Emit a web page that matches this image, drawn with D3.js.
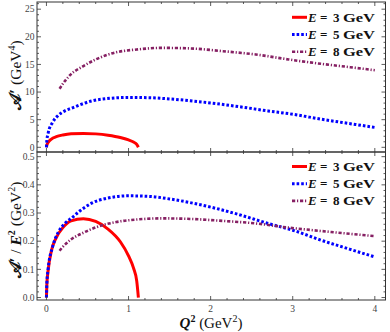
<!DOCTYPE html>
<html>
<head>
<meta charset="utf-8">
<script src="https://cdn.jsdelivr.net/npm/d3@7"></script>
<style>
  body { margin: 0; background: #fff; }
  text { font-family: "Liberation Serif", "DejaVu Serif", serif; }
</style>
</head>
<body>
<div id="chart"></div>
<script>
// DATA ***********************************************
var energies = ["3", "5", "8"];

// E = 3 GeV
var q2E3 = [0, 0.005, 0.02, 0.06, 0.12, 0.2, 0.3, 0.45, 0.6, 0.75, 0.9, 1.0, 1.06, 1.1, 1.12];
var topE3 = [0, 0.4, 0.86, 1.49, 1.92, 2.23, 2.45, 2.52, 2.43, 2.19, 1.78, 1.33, 0.95, 0.52, 0];
var botE3 = [0, 0.045, 0.095, 0.165, 0.213, 0.248, 0.272, 0.28, 0.27, 0.243, 0.198, 0.148, 0.105, 0.058, 0];

// E = 5 GeV
var q2E5 = [0, 0.005, 0.02, 0.075, 0.145, 0.225, 0.31, 0.41, 0.55, 0.73, 1.0, 1.25, 1.5, 1.75, 2.0, 2.35, 2.7, 3.0, 3.35, 3.7, 4.0];
var topE5 = [0, 1.25, 2.5, 4.5, 5.8, 6.6, 7.1, 7.7, 8.38, 8.8, 9.03, 8.98, 8.75, 8.43, 8.03, 7.35, 6.58, 5.98, 5.08, 4.28, 3.6];
var botE5 = [0, 0.05, 0.1, 0.18, 0.232, 0.263, 0.283, 0.308, 0.335, 0.352, 0.361, 0.359, 0.35, 0.337, 0.321, 0.294, 0.263, 0.239, 0.203, 0.171, 0.144];

// E = 8 GeV
var q2E8 = [0.16, 0.2, 0.29, 0.45, 0.6, 0.85, 1.1, 1.4, 1.75, 2.15, 2.55, 2.95, 3.35, 3.7, 4.0];
var topE8 = [10.6, 11.5, 13.1, 14.7, 15.9, 17.2, 17.7, 18.0, 17.9, 17.4, 16.8, 15.9, 15.1, 14.5, 13.95];
var botE8 = [0.166, 0.18, 0.204, 0.23, 0.249, 0.268, 0.277, 0.281, 0.279, 0.272, 0.263, 0.248, 0.236, 0.226, 0.218];

var xTicks = [0, 1, 2, 3, 4];
var topTicks = [0, 5, 10, 15, 20, 25];
var botTicks = [0.0, 0.1, 0.2, 0.3, 0.4, 0.5];

// STYLES ***********************************************
var width = 390, height = 332;
var left = 37, right = 385.5;
var colors = ["#ff0000", "#0000ff", "#862063"];
var dashes = [null, "2.6,2", "3.2,1.8,1.2,1.8"];
var widths = [3, 3, 2.6];

var svg = d3.select("#chart").append("svg")
        .attr("width", width)
        .attr("height", height);

var x = d3.scaleLinear().domain([-0.115, 4.13]).range([left, right]);

var panels = [
        {
                y: d3.scaleLinear().domain([-0.85, 26.3]).range([152, 2]),
                ticks: topTicks, minor: d3.range(0, 26.01, 1), fmt: d3.format("d"),
                series: [[q2E3, topE3], [q2E5, topE5], [q2E8, topE8]],
                legendY: 17.3, showX: false
        },
        {
                y: d3.scaleLinear().domain([-0.0088, 0.5166]).range([300, 152]),
                ticks: botTicks, minor: d3.range(0, 0.5101, 0.02), fmt: d3.format(".1f"),
                series: [[q2E3, botE3], [q2E5, botE5], [q2E8, botE8]],
                legendY: 166.5, showX: true
        }
];

var xMinor = d3.range(0, 4.101, 0.2);

panels.forEach(function (p) {
        var g = svg.append("g");
        var y = p.y;
        var y0 = y.range()[0], y1 = y.range()[1];

        // curves
        var line = d3.line()
                .x(function (d) { return x(d[0]); })
                .y(function (d) { return y(d[1]); })
                .curve(d3.curveMonotoneX);

        p.series.forEach(function (s, i) {
                var pts = d3.zip(s[0], s[1]);
                g.append("path")
                        .attr("d", line(pts))
                        .attr("fill", "none")
                        .attr("stroke", colors[i])
                        .attr("stroke-width", widths[i])
                        .attr("stroke-dasharray", dashes[i]);
        });

        // frame
        g.append("rect")
                .attr("x", left).attr("y", y1)
                .attr("width", right - left).attr("height", y0 - y1)
                .attr("fill", "none")
                .attr("stroke", "#333")
                .attr("stroke-width", 1);

        // x ticks (bottom and top edges)
        xMinor.forEach(function (v) {
                var major = Math.abs(v - Math.round(v)) < 1e-6;
                var len = major ? 4 : 2;
                g.append("line").attr("x1", x(v)).attr("x2", x(v))
                        .attr("y1", y0).attr("y2", y0 - len)
                        .attr("stroke", "#333").attr("stroke-width", 0.8);
                g.append("line").attr("x1", x(v)).attr("x2", x(v))
                        .attr("y1", y1).attr("y2", y1 + len)
                        .attr("stroke", "#333").attr("stroke-width", 0.8);
        });

        // y ticks (left and right edges)
        p.minor.forEach(function (v) {
                var major = p.ticks.some(function (t) { return Math.abs(t - v) < 1e-6; });
                var len = major ? 4 : 2;
                g.append("line").attr("x1", left).attr("x2", left + len)
                        .attr("y1", y(v)).attr("y2", y(v))
                        .attr("stroke", "#333").attr("stroke-width", 0.8);
                g.append("line").attr("x1", right).attr("x2", right - len)
                        .attr("y1", y(v)).attr("y2", y(v))
                        .attr("stroke", "#333").attr("stroke-width", 0.8);
        });

        // y tick labels
        g.selectAll(".ylab").data(p.ticks).enter().append("text")
                .attr("x", left - 2.5)
                .attr("y", function (d) { return y(d); })
                .attr("dy", "0.34em")
                .attr("text-anchor", "end")
                .attr("font-size", 9.5)
                .attr("fill", "#444")
                .text(p.fmt);

        if (p.showX) {
                g.selectAll(".xlab").data(xTicks).enter().append("text")
                        .attr("x", function (d) { return x(d); })
                        .attr("y", y0 + 12)
                        .attr("text-anchor", "middle")
                        .attr("font-size", 9.5)
                        .attr("fill", "#444")
                        .text(function (d) { return d; });
        }

        // legend
        energies.forEach(function (e, i) {
                var ly = p.legendY + i * 17.2;
                g.append("line")
                        .attr("x1", 292).attr("x2", 307)
                        .attr("y1", ly).attr("y2", ly)
                        .attr("stroke", colors[i])
                        .attr("stroke-width", widths[i])
                        .attr("stroke-dasharray", dashes[i]);
                var t = g.append("text")
                        .attr("y", ly)
                        .attr("dy", "0.35em")
                        .attr("font-size", 13)
                        .attr("font-weight", "bold")
                        .attr("fill", "#111");
                t.append("tspan").attr("x", 308).attr("font-style", "italic").text("E");
                t.append("tspan").attr("x", 320).text("=");
                t.append("tspan").attr("x", 333).text(e);
                t.append("tspan").attr("x", 343)
                        .attr("textLength", 32).attr("lengthAdjust", "spacingAndGlyphs")
                        .text("GeV");
        });
});

// axis titles
var yt1 = svg.append("text")
        .attr("transform", "translate(21,75) rotate(-90)")
        .attr("text-anchor", "middle")
        .attr("font-size", 15.5)
        .attr("fill", "#111");
yt1.append("tspan").attr("font-weight", "bold").attr("font-size", 17).text("\uD835\uDC9C\u2032");
yt1.append("tspan").text(" (GeV");
yt1.append("tspan").attr("font-size", 10).attr("dy", -6).text("4");
yt1.append("tspan").attr("dy", 6).text(")");

var yt2 = svg.append("text")
        .attr("transform", "translate(21,230) rotate(-90)")
        .attr("text-anchor", "middle")
        .attr("font-size", 15.5)
        .attr("fill", "#111");
yt2.append("tspan").attr("font-weight", "bold").attr("font-size", 17).text("\uD835\uDC9C\u2032");
yt2.append("tspan").text(" / ");
yt2.append("tspan").attr("font-weight", "bold").attr("font-style", "italic").text("E");
yt2.append("tspan").attr("font-size", 10).attr("dy", -6).attr("font-weight", "bold").text("2");
yt2.append("tspan").attr("dy", 6).text(" (GeV");
yt2.append("tspan").attr("font-size", 10).attr("dy", -6).text("2");
yt2.append("tspan").attr("dy", 6).text(")");

var xt = svg.append("text")
        .attr("x", 211).attr("y", 328)
        .attr("text-anchor", "middle")
        .attr("font-size", 15)
        .attr("fill", "#111");
xt.append("tspan").attr("font-weight", "bold").attr("font-style", "italic").text("Q");
xt.append("tspan").attr("font-size", 10).attr("dy", -6).attr("font-weight", "bold").text("2");
xt.append("tspan").attr("dy", 6).text(" (GeV");
xt.append("tspan").attr("font-size", 10).attr("dy", -6).text("2");
xt.append("tspan").attr("dy", 6).text(")");
</script>
</body>
</html>
